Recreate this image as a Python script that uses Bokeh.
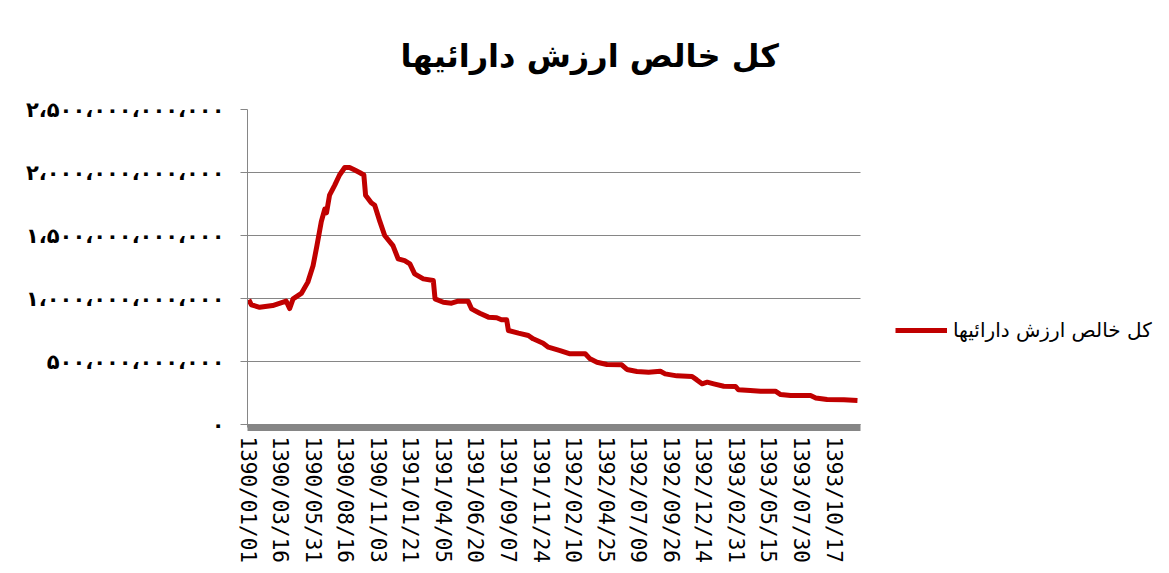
from bokeh.plotting import figure
from bokeh.models import FixedTicker, Legend, LegendItem, Range1d
from bokeh.embed import file_html
from bokeh.resources import INLINE

title_text = "کل خالص ارزش دارائیها"
series_name = "کل خالص ارزش دارائیها"

# x = trading-day index, y = total net asset value
day_index = [3, 9, 28, 58, 89, 97, 105, 124, 139, 151, 160, 170, 178, 182, 189, 201,
             212, 224, 235, 247, 258, 268, 272, 285, 293, 305, 316, 335, 347, 362, 374,
             385, 405, 428, 432, 451, 470, 485, 508, 516, 535, 555, 574, 585, 597, 601,
             624, 647, 658, 681, 693, 720, 743, 778, 789, 805, 828, 862, 874, 897, 924,
             951, 962, 989, 1024, 1035, 1047, 1059, 1074, 1097, 1124, 1131, 1158, 1182,
             1216, 1228, 1251, 1297, 1309, 1335, 1374, 1405]
nav_values = [0.99e12, 0.95e12, 0.93e12, 0.944e12, 0.98e12, 0.92e12, 0.997e12, 1.04e12,
              1.13e12, 1.26e12, 1.42e12, 1.61e12, 1.71e12, 1.68e12, 1.82e12, 1.90e12,
              1.98e12, 2.04e12, 2.04e12, 2.02e12, 2.0e12, 1.98e12, 1.82e12, 1.76e12,
              1.74e12, 1.61e12, 1.50e12, 1.42e12, 1.315e12, 1.30e12, 1.275e12, 1.196e12,
              1.156e12, 1.143e12, 0.997e12, 0.97e12, 0.963e12, 0.979e12, 0.979e12,
              0.918e12, 0.883e12, 0.852e12, 0.847e12, 0.831e12, 0.831e12, 0.746e12,
              0.725e12, 0.706e12, 0.68e12, 0.645e12, 0.614e12, 0.587e12, 0.561e12,
              0.561e12, 0.521e12, 0.494e12, 0.476e12, 0.474e12, 0.437e12, 0.421e12,
              0.415e12, 0.423e12, 0.402e12, 0.386e12, 0.381e12, 0.354e12, 0.323e12,
              0.336e12, 0.323e12, 0.304e12, 0.302e12, 0.275e12, 0.27e12, 0.264e12,
              0.264e12, 0.238e12, 0.23e12, 0.23e12, 0.211e12, 0.198e12, 0.196e12, 0.19e12]

x_tick_labels = ["1390/01/01", "1390/03/16", "1390/05/31", "1390/08/16", "1390/11/03",
                 "1391/01/21", "1391/04/05", "1391/06/20", "1391/09/07", "1391/11/24",
                 "1392/02/10", "1392/04/25", "1392/07/09", "1392/09/26", "1392/12/14",
                 "1393/02/31", "1393/05/15", "1393/07/30", "1393/10/17"]
x_tick_days = [0, 75, 150, 225, 300, 375, 450, 525, 600, 675, 750, 825, 900, 975,
               1050, 1125, 1200, 1275, 1350]
last_day = 1412

y_tick_values = [0, 500000000000, 1000000000000, 1500000000000, 2000000000000, 2500000000000]
y_tick_labels = ["۰", "۵۰۰،۰۰۰،۰۰۰،۰۰۰", "۱،۰۰۰،۰۰۰،۰۰۰،۰۰۰", "۱،۵۰۰،۰۰۰،۰۰۰،۰۰۰",
                 "۲،۰۰۰،۰۰۰،۰۰۰،۰۰۰", "۲،۵۰۰،۰۰۰،۰۰۰،۰۰۰"]

GRAY = "#868686"
RED = "#C00000"

# data area spans 247..860 px horizontally; the remaining width holds the legend
W, H, LEFT, DATA_RIGHT, TOP, BOTTOM = 1165, 565, 247, 860, 109, 427
ZERO_PX = 424  # zero line sits 3px above the frame bottom so the thick axis bar lies below it
x_view_end = last_day * (W - LEFT) / (DATA_RIGHT - LEFT)
y_top = 2.5e12
y_view_start = -y_top * (BOTTOM - ZERO_PX) / (ZERO_PX - TOP)

p = figure(width=W, height=H, output_backend="svg", toolbar_location=None,
           x_range=Range1d(0, x_view_end), y_range=Range1d(y_view_start, y_top),
           min_border_left=LEFT, min_border_right=0, min_border_top=TOP,
           min_border_bottom=H - BOTTOM)
p.background_fill_color = "white"
p.border_fill_color = "white"
p.outline_line_color = None

p.title.text = title_text
p.title.text_font = "DejaVu Sans"
p.title.text_font_size = "32px"
p.title.text_font_style = "bold"
p.title.align = "left"
p.title.offset = 153
p.title.standoff = 69
p.title.text_color = "black"

r = p.line(day_index, nav_values, line_color=RED, line_width=5, line_join="round")

# x axis
xa = p.xaxis[0]
xa.ticker = FixedTicker(ticks=x_tick_days)
xa.major_label_overrides = {d: l for d, l in zip(x_tick_days, x_tick_labels)}
xa.major_label_orientation = "vertical"
xa.major_label_text_font = "DejaVu Sans Mono"
xa.major_label_text_font_size = "21px"
xa.major_label_text_color = "black"
xa.major_label_standoff = 3
xa.axis_line_color = GRAY
xa.axis_line_width = 7
xa.major_tick_line_color = None
xa.minor_tick_line_color = None
xa.bounds = (0, last_day)

# y axis
ya = p.yaxis[0]
ya.ticker = FixedTicker(ticks=y_tick_values)
ya.major_label_overrides = {v: l for v, l in zip(y_tick_values, y_tick_labels)}
ya.major_label_text_font = "DejaVu Sans"
ya.major_label_text_font_size = "21px"
ya.major_label_text_font_style = "bold"
ya.major_label_text_color = "black"
ya.major_label_standoff = 16
ya.axis_line_color = GRAY
ya.axis_line_width = 1
ya.major_tick_line_color = GRAY
ya.major_tick_out = 7
ya.major_tick_in = 0
ya.minor_tick_line_color = None

p.xgrid.grid_line_color = None
p.ygrid.grid_line_color = GRAY
p.ygrid.grid_line_width = 1
p.ygrid.cross_bounds = (0, last_day)

legend = Legend(items=[LegendItem(label=series_name, renderers=[r])],
                location=(DATA_RIGHT - LEFT + 35, 85), padding=0, margin=0, spacing=0,
                glyph_width=52, glyph_height=20, label_standoff=6,
                label_text_font="DejaVu Sans", label_text_font_size="20px",
                label_text_color="black", border_line_color=None,
                background_fill_alpha=0)
p.add_layout(legend, "center")

open("out.html", "w").write(file_html(p, INLINE))
